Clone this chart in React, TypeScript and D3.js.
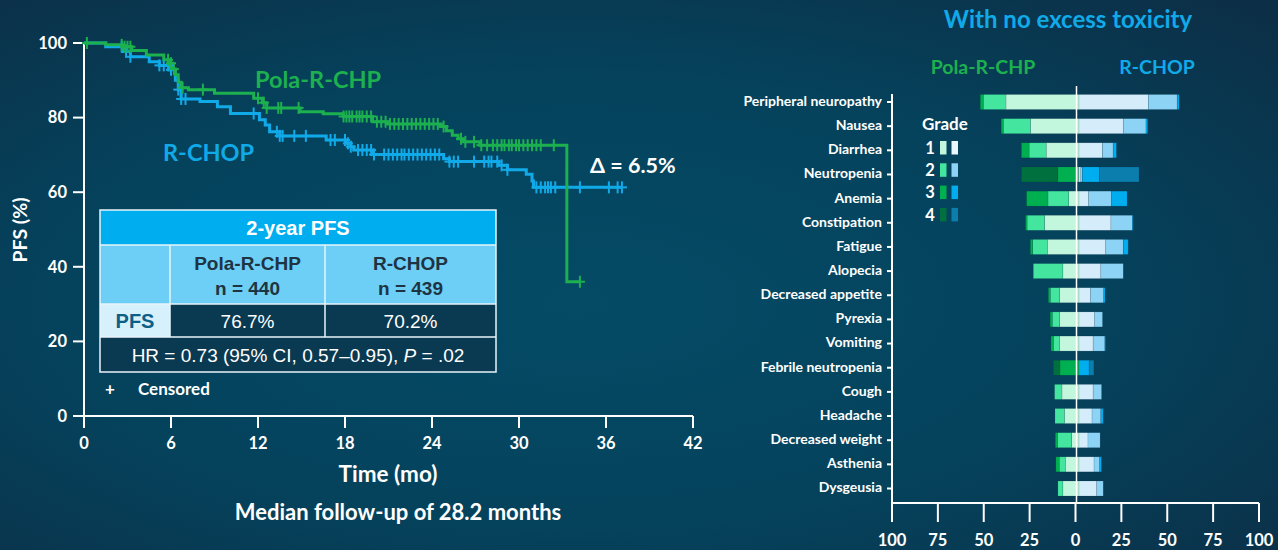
import React from 'react';
import * as d3 from 'd3';

const W = 1278, H = 550;

// ---------- Kaplan–Meier data (time in months, PFS %) ----------
const polaTimes = [0, 1.5, 2.7, 3.3, 4.3, 5.5, 5.9, 6.1, 6.3, 6.5, 6.7, 7.2, 9.0, 11.7, 12.3, 12.6, 14.9, 16.5, 17.9, 19.9, 21.0, 24.6, 25.0, 25.4, 25.8, 26.1, 27.3, 33.3];
const polaSurv = [100, 99.5, 99.0, 98.0, 96.8, 95.5, 94.6, 93.0, 91.5, 89.5, 88.0, 87.5, 86.5, 85.2, 84.0, 82.6, 81.6, 81.0, 80.3, 78.9, 78.3, 77.6, 76.5, 75.3, 74.3, 73.5, 72.6, 36.0];
const polaEnd = 34.2;
const polaCensor = [0.2, 2.6, 2.8, 3.0, 3.2, 5.8, 6.0, 6.2, 6.8, 8.2, 12.0, 12.4, 12.6, 13.4, 13.6, 14.8, 17.9, 18.1, 18.3, 18.5, 18.8, 19.0, 19.2, 19.5, 19.8, 20.2, 20.5, 20.8, 21.1, 21.4, 21.7, 22.0, 22.3, 22.6, 22.9, 23.2, 23.5, 23.8, 24.1, 24.4, 24.8, 26.0, 26.3, 26.9, 27.4, 27.8, 28.2, 28.5, 28.8, 29.0, 29.3, 29.5, 29.8, 30.0, 30.3, 30.6, 30.9, 31.2, 31.5, 32.4, 34.2];

const rchopTimes = [0, 1.5, 2.7, 3.2, 4.5, 5.2, 5.9, 6.3, 6.5, 6.7, 8.0, 9.2, 10.1, 12.1, 12.5, 12.8, 13.5, 16.7, 18.1, 18.4, 18.6, 19.9, 24.8, 25.2, 28.6, 29.2, 30.5, 30.9, 31.0];
const rchopSurv = [100, 99.0, 97.7, 96.3, 95.0, 94.0, 92.8, 90.0, 87.5, 85.0, 84.3, 82.9, 81.1, 79.4, 78.0, 76.2, 75.1, 74.0, 73.1, 72.2, 71.3, 70.1, 69.0, 68.2, 67.2, 66.0, 64.8, 63.0, 61.3];
const rchopEnd = 37.1;
const rchopCensor = [2.6, 2.9, 3.2, 5.2, 5.5, 5.8, 6.0, 6.5, 6.7, 7.0, 11.7, 13.3, 13.5, 13.7, 14.5, 15.3, 17.0, 17.3, 18.0, 18.2, 18.4, 18.9, 19.2, 19.5, 19.8, 20.0, 20.7, 21.0, 21.3, 21.6, 21.9, 22.1, 22.4, 22.7, 23.0, 23.3, 23.6, 23.9, 24.2, 24.5, 25.2, 25.5, 25.8, 26.9, 27.6, 27.9, 28.1, 28.5, 28.8, 29.2, 31.2, 31.5, 31.8, 32.0, 32.2, 32.5, 34.2, 36.2, 36.8, 37.1];

const kmXTicks = [0, 6, 12, 18, 24, 30, 36, 42];
const kmYTicks = [0, 20, 40, 60, 80, 100];

// ---------- Adverse events (% of patients by grade) ----------
const aeCategories = ['Peripheral neuropathy', 'Nausea', 'Diarrhea', 'Neutropenia', 'Anemia', 'Constipation', 'Fatigue', 'Alopecia', 'Decreased appetite', 'Pyrexia', 'Vomiting', 'Febrile neutropenia', 'Cough', 'Headache', 'Decreased weight', 'Asthenia', 'Dysgeusia'];
const polaG1 = [39.8, 26.5, 17.9, 0.4, 5.6, 18.8, 17.3, 8.8, 10.6, 10.6, 10.7, 0, 9.3, 8.0, 4.0, 7.5, 8.8];
const polaG2 = [12.4, 14.8, 9.3, 1.0, 11.3, 9.5, 7.9, 16.1, 5.1, 4.0, 3.3, 0, 4.0, 5.1, 7.8, 3.3, 2.7];
const polaG3 = [1.6, 1.1, 4.2, 10.1, 11.7, 0.8, 1.3, 0, 1.0, 1.1, 1.3, 10.4, 0, 0, 1.1, 1.8, 0];
const polaG4 = [0, 0, 0, 19.9, 0.5, 0, 0, 0, 0, 0, 0, 3.6, 0, 0, 0, 0, 0];
const rchopG1 = [37.8, 24.1, 12.8, 1.0, 5.3, 17.4, 14.6, 11.9, 6.4, 8.6, 7.7, 0, 7.7, 7.1, 4.9, 8.2, 9.7];
const rchopG2 = [15.7, 12.4, 5.8, 0.8, 12.4, 11.7, 9.5, 12.2, 7.1, 4.2, 6.4, 0, 4.6, 4.8, 6.6, 3.1, 3.5];
const rchopG3 = [1.1, 0.9, 1.8, 9.3, 8.5, 0.4, 2.7, 0, 0.7, 0, 0.3, 5.5, 0, 1.3, 0, 0.9, 0];
const rchopG4 = [0, 0, 0, 21.6, 0, 0, 0, 0, 0, 0, 0, 2.6, 0, 0, 0, 0, 0];
const aeTicks = [-100, -75, -50, -25, 0, 25, 50, 75, 100];
const grades = [1, 2, 3, 4];

const GREEN = ['#c2f6dd', '#43e59f', '#00b050', '#00703f'];
const BLUE = ['#d5edfb', '#8dd3f6', '#00aeef', '#0b7eae'];
const LEGEND_BLUE = ['#eaf7ff', '#8dd3f6', '#00aeef', '#0b7eae'];
const C_GREEN = '#1db04f';
const C_BLUE = '#11aae9';

const CAL = 'Lato, "Open Sans", sans-serif';
const ARIAL = '"Liberation Sans", Arial, sans-serif';

function stepValue(times: number[], surv: number[], t: number) {
  let v = surv[0];
  for (let i = 0; i < times.length; i++) if (times[i] <= t) v = surv[i];
  return v;
}

export default function App() {
  // KM scales
  const x = d3.scaleLinear().domain([0, 42]).range([84, 693]);
  const y = d3.scaleLinear().domain([0, 100]).range([416, 43]);
  const line = d3.line<[number, number]>().x(d => x(d[0])).y(d => y(d[1])).curve(d3.curveStepAfter);
  const polaPts: [number, number][] = polaTimes.map((t, i) => [t, polaSurv[i]] as [number, number]).concat([[polaEnd, polaSurv[polaSurv.length - 1]]]);
  const rchopPts: [number, number][] = rchopTimes.map((t, i) => [t, rchopSurv[i]] as [number, number]).concat([[rchopEnd, rchopSurv[rchopSurv.length - 1]]]);

  // AE scales
  const xr = d3.scaleLinear().domain([-100, 100]).range([892, 1259]);
  const yr = d3.scalePoint<string>().domain(aeCategories).range([102, 488.5]);
  const barH = 15;
  const barShift = 3.5;

  const stackSide = (vals: number[][], sign: number, colors: string[], key: string) =>
    aeCategories.map((c, i) => {
      let acc = 0;
      return vals.map((arr, g) => {
        const v = arr[i];
        const a = acc;
        acc += v;
        if (v <= 0) return null;
        const x0 = xr(sign * a), x1 = xr(sign * acc);
        return (
          <rect key={`${key}-${i}-${g}`} x={Math.min(x0, x1) + barShift} y={(yr(c) as number) - barH / 2}
            width={Math.abs(x1 - x0)} height={barH} fill={colors[g]} stroke="rgba(0,40,60,0.25)" strokeWidth={0.5} />
        );
      });
    });

  const censorMark = (t: number, times: number[], surv: number[], color: string, k: string) => {
    const cx = x(t), cy = y(stepValue(times, surv, t));
    return (
      <g key={k} stroke={color} strokeWidth={2}>
        <line x1={cx} x2={cx} y1={cy - 6} y2={cy + 6} />
        <line x1={cx - 5} x2={cx + 5} y1={cy} y2={cy} />
      </g>
    );
  };

  const white = '#ffffff';
  const dark = '#0a3a52';

  return (
    <svg width={W} height={H} style={{ position: 'absolute', left: 0, top: 0, display: 'block' }}>
      <defs>
        <radialGradient id="bg" cx="45%" cy="55%" r="75%">
          <stop offset="0" stopColor="#044b66" />
          <stop offset="0.55" stopColor="#05425c" />
          <stop offset="1" stopColor="#0c2f47" />
        </radialGradient>
      </defs>
      <rect x={0} y={0} width={W} height={H} fill="url(#bg)" />

      {/* ---------------- KM chart ---------------- */}
      <g fill="none" stroke={white} strokeWidth={2}>
        <line x1={x(0)} x2={x(0)} y1={y(100) - 1} y2={y(0)} />
        <line x1={x(0)} x2={x(42)} y1={y(0)} y2={y(0)} />
        {kmYTicks.map(v => <line key={'yt' + v} x1={x(0) - 11} x2={x(0)} y1={y(v)} y2={y(v)} />)}
        {kmXTicks.map(v => <line key={'xt' + v} x1={x(v)} x2={x(v)} y1={y(0)} y2={y(0) + 12} />)}
      </g>
      <g fill={white} fontFamily={CAL} fontWeight="bold" fontSize={16.5}>
        {kmYTicks.map(v => <text key={'yl' + v} x={x(0) - 17} y={y(v)} dy="0.35em" textAnchor="end">{v}</text>)}
        {kmXTicks.map(v => <text key={'xl' + v} x={x(v)} y={y(0) + 27} dy="0.35em" textAnchor="middle">{v}</text>)}
      </g>
      <text transform="translate(20,230) rotate(-90)" textAnchor="middle" dy="0.35em" fill={white} fontFamily={CAL} fontWeight="bold" fontSize={19.5}>PFS (%)</text>
      <text x={388} y={474} dy="0.35em" textAnchor="middle" fill={white} fontFamily={CAL} fontWeight="bold" fontSize={22.5}>Time (mo)</text>
      <text x={398} y={512} dy="0.35em" textAnchor="middle" fill={white} fontFamily={CAL} fontWeight="bold" fontSize={22}>Median follow-up of 28.2 months</text>

      <path d={line(rchopPts) || ''} fill="none" stroke={C_BLUE} strokeWidth={3} />
      <path d={line(polaPts) || ''} fill="none" stroke={C_GREEN} strokeWidth={3} />
      {rchopCensor.map((t, i) => censorMark(t, rchopTimes, rchopSurv, C_BLUE, 'rc' + i))}
      {polaCensor.map((t, i) => censorMark(t, polaTimes, polaSurv, C_GREEN, 'pc' + i))}

      <text x={255} y={80} dy="0.35em" fill={C_GREEN} fontFamily={CAL} fontWeight="bold" fontSize={23.5}>Pola-R-CHP</text>
      <text x={163} y={153} dy="0.35em" fill={C_BLUE} fontFamily={CAL} fontWeight="bold" fontSize={23.5}>R-CHOP</text>
      <text x={590} y={165} dy="0.35em" fill={white} fontFamily={CAL} fontWeight="bold" fontSize={21.5}>Δ = 6.5%</text>

      {/* table */}
      <g fontFamily={ARIAL}>
        <rect x={100} y={210} width={396} height={35} fill="#00aeef" />
        <rect x={100} y={245} width={396} height={59} fill="#6dcff5" />
        <rect x={100} y={304} width={70} height={33} fill="#d6f0fc" />
        <rect x={170} y={304} width={326} height={33} fill={dark} />
        <rect x={100} y={337} width={396} height={35} fill={dark} />
        <g stroke="#e8f4fa" strokeWidth={1.5} fill="none">
          <rect x={100} y={210} width={396} height={162} />
          <line x1={100} x2={496} y1={245} y2={245} />
          <line x1={100} x2={496} y1={304} y2={304} />
          <line x1={100} x2={496} y1={337} y2={337} />
          <line x1={170} x2={170} y1={245} y2={337} />
          <line x1={325} x2={325} y1={245} y2={337} />
        </g>
        <text x={298} y={228} dy="0.35em" textAnchor="middle" fill={white} fontWeight="bold" fontSize={20}>2-year PFS</text>
        <g fill="#1e3443" fontWeight="bold" fontSize={19} textAnchor="middle">
          <text x={247.5} y={263} dy="0.35em">Pola-R-CHP</text>
          <text x={247.5} y={288} dy="0.35em">n = 440</text>
          <text x={410.5} y={263} dy="0.35em">R-CHOP</text>
          <text x={410.5} y={288} dy="0.35em">n = 439</text>
        </g>
        <text x={135} y={321} dy="0.35em" textAnchor="middle" fill="#0d5f85" fontWeight="bold" fontSize={20}>PFS</text>
        <text x={247.5} y={321} dy="0.35em" textAnchor="middle" fill={white} fontSize={19}>76.7%</text>
        <text x={410.5} y={321} dy="0.35em" textAnchor="middle" fill={white} fontSize={19}>70.2%</text>
        <text x={298} y={355} dy="0.35em" textAnchor="middle" fill={white} fontSize={19}>
          HR = 0.73 (95% CI, 0.57–0.95), <tspan fontStyle="italic">P</tspan> = .02
        </text>
      </g>
      <text x={110} y={389} dy="0.35em" textAnchor="middle" fill={white} fontFamily={CAL} fontWeight="bold" fontSize={17}>+</text>
      <text x={138} y={389} dy="0.35em" fill={white} fontFamily={CAL} fontWeight="bold" fontSize={17}>Censored</text>

      {/* ---------------- AE chart ---------------- */}
      <text x={1068} y={20} dy="0.35em" textAnchor="middle" fill={C_BLUE} fontFamily={CAL} fontWeight="bold" fontSize={24}>With no excess toxicity</text>
      <text x={983} y={67} dy="0.35em" textAnchor="middle" fill={C_GREEN} fontFamily={CAL} fontWeight="bold" fontSize={19.5}>Pola-R-CHP</text>
      <text x={1157} y={67} dy="0.35em" textAnchor="middle" fill={C_BLUE} fontFamily={CAL} fontWeight="bold" fontSize={19.5}>R-CHOP</text>

      {stackSide([polaG1, polaG2, polaG3, polaG4], -1, GREEN, 'p')}
      {stackSide([rchopG1, rchopG2, rchopG3, rchopG4], 1, BLUE, 'r')}

      <line x1={xr(0) + 1} x2={xr(0) + 1} y1={86} y2={503} stroke={white} strokeWidth={1.5} />
      <g stroke={white} strokeWidth={2} fill="none">
        <line x1={xr(-100)} x2={xr(-100)} y1={94} y2={503} />
        <line x1={xr(-100)} x2={xr(100)} y1={503} y2={503} />
        {aeTicks.map(v => <line key={'at' + v} x1={xr(v)} x2={xr(v)} y1={503} y2={522} />)}
        {aeCategories.map(c => <line key={'ct' + c} x1={xr(-100) - 5} x2={xr(-100)} y1={yr(c) as number} y2={yr(c) as number} />)}
      </g>
      <g fill={white} fontFamily={CAL} fontWeight="bold">
        {aeTicks.map(v => <text key={'al' + v} x={xr(v)} y={540} dy="0.35em" textAnchor="middle" fontSize={16.5}>{Math.abs(v)}</text>)}
        {aeCategories.map(c => <text key={'cl' + c} x={882} y={(yr(c) as number) - 1} dy="0.35em" textAnchor="end" fontSize={14}>{c}</text>)}
      </g>

      {/* grade legend */}
      <text x={922} y={124} dy="0.35em" fill={white} fontFamily={CAL} fontWeight="bold" fontSize={17}>Grade</text>
      {grades.map((g, i) => (
        <g key={'lg' + g}>
          <text x={930} y={148 + i * 22.3} dy="0.35em" textAnchor="middle" fill={white} fontFamily={CAL} fontWeight="bold" fontSize={16.5}>{g}</text>
          <rect x={940} y={141 + i * 22.3} width={6.5} height={13.5} fill={GREEN[i]} />
          <rect x={951.5} y={141 + i * 22.3} width={6.5} height={13.5} fill={LEGEND_BLUE[i]} />
        </g>
      ))}
    </svg>
  );
}
